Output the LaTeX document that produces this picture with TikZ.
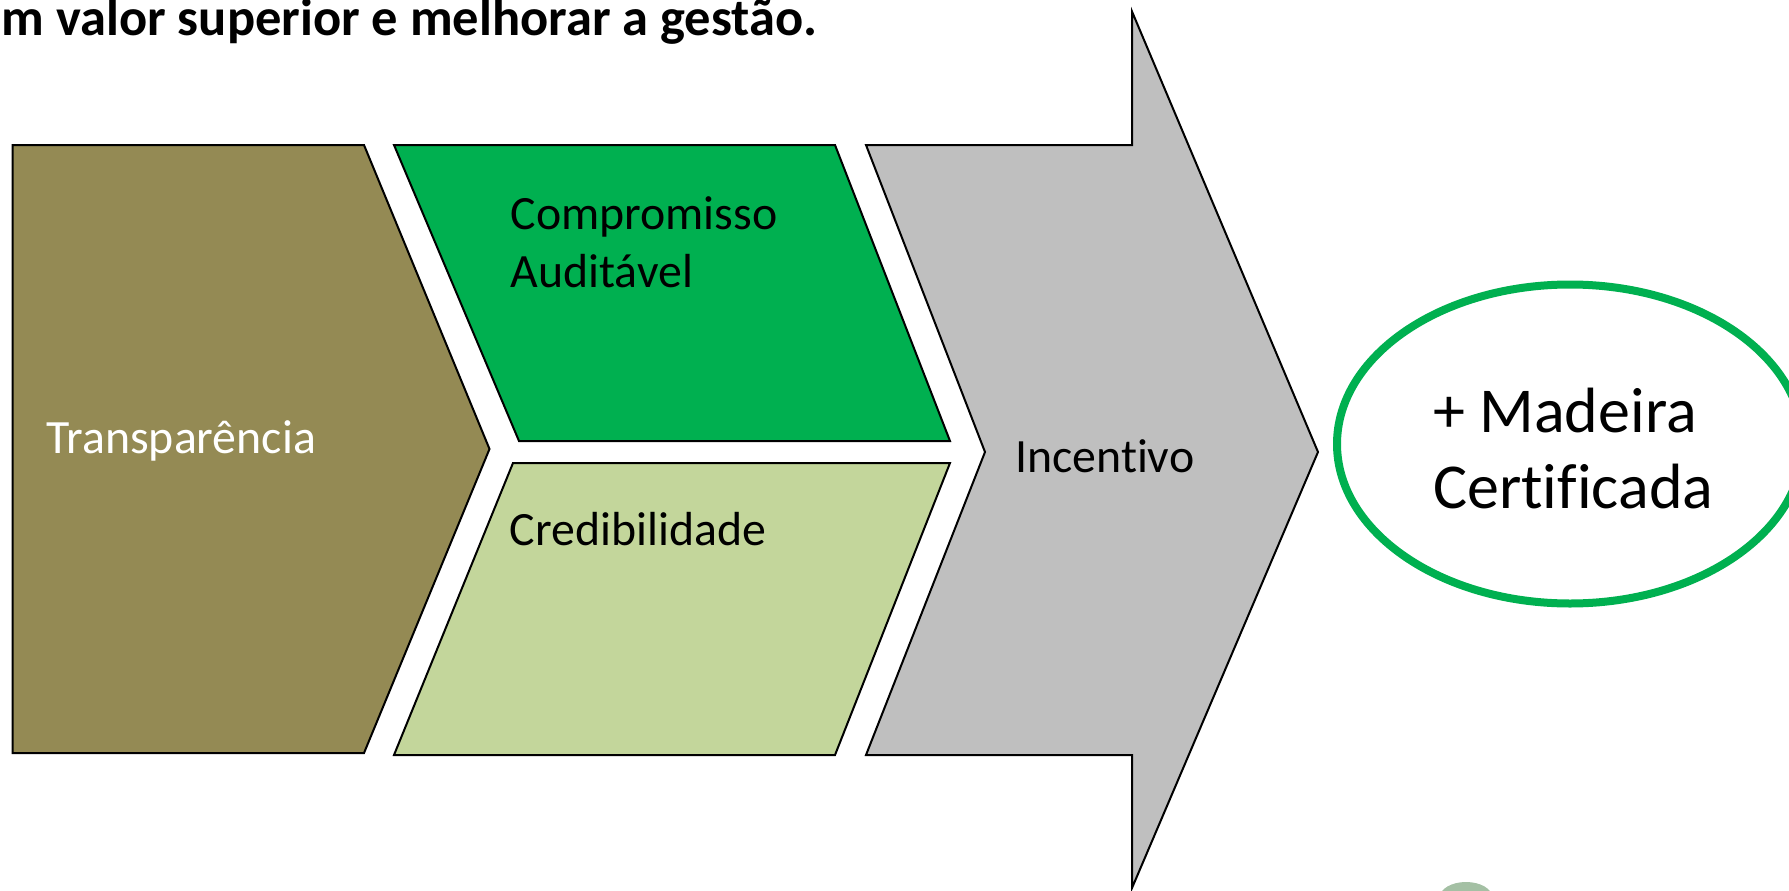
\documentclass[tikz,border=0pt]{standalone}
\usepackage{fontspec}
\setmainfont[Ligatures=NoCommon]{Carlito}
\usetikzlibrary{shapes.geometric}
\definecolor{olive}{HTML}{948A54}
\definecolor{brightgreen}{HTML}{00B050}
\definecolor{lightgreen}{HTML}{C3D69B}
\definecolor{midgray}{HTML}{BFBFBF}
\definecolor{logogreen}{HTML}{8DB08D}
\tikzset{
  shapebox/.style={draw=black, line width=2pt, line join=miter},
  lbl/.style={anchor=base west, inner sep=0pt, font=\fontsize{47.8}{58}\selectfont},
  biglbl/.style={anchor=base west, inner sep=0pt, font=\fontsize{64}{77}\selectfont},
}
\begin{document}
\begin{tikzpicture}[x=1pt,y=-1pt]
\useasboundingbox (0,0) rectangle (1789,891);
% title fragment
\node[anchor=base west, inner sep=0pt, font=\fontsize{52.5}{64}\selectfont\bfseries] (title) at (1.5,36) {m valor superior e melhorar a gestão.};
% shapes
\path[shapebox, fill=olive] (12.5,145) -- (364,145) -- (489.5,449) -- (364,753) -- (12.5,753) -- cycle;
\path[shapebox, fill=brightgreen] (394,145) -- (835,145) -- (950,441) -- (519,441) -- cycle;
\path[shapebox, fill=lightgreen] (513,463) -- (950,463) -- (835,755) -- (394,755) -- cycle;
\path[shapebox, fill=midgray] (866,145) -- (1132,145) -- (1132,11.5) -- (1318,452) -- (1132,888) -- (1132,755) -- (866,755) -- (985,452) -- cycle;
% ellipse
\node[draw=brightgreen, line width=8pt, ellipse, minimum width=466pt, minimum height=319pt, inner sep=0pt] (goal) at (1570,444) {};
% logo fragment
\fill[logogreen, opacity=0.8] (1466,897) ellipse [x radius=26, y radius=15];
% labels
\node[lbl, text=white] (transp) at (46,453) {Transparência};
\node[lbl] (comp1) at (510.5,229) {Compromisso};
\node[lbl] (comp2) at (510.5,287) {Auditável};
\node[lbl] (cred) at (509.5,545.5) {Credibilidade};
\node[lbl] (inc) at (1015,472.5) {Incentivo};
\node[biglbl] (mad1) at (1433,432) {+ Madeira};
\node[biglbl] (mad2) at (1433,508) {Certificada};
\end{tikzpicture}
\end{document}
